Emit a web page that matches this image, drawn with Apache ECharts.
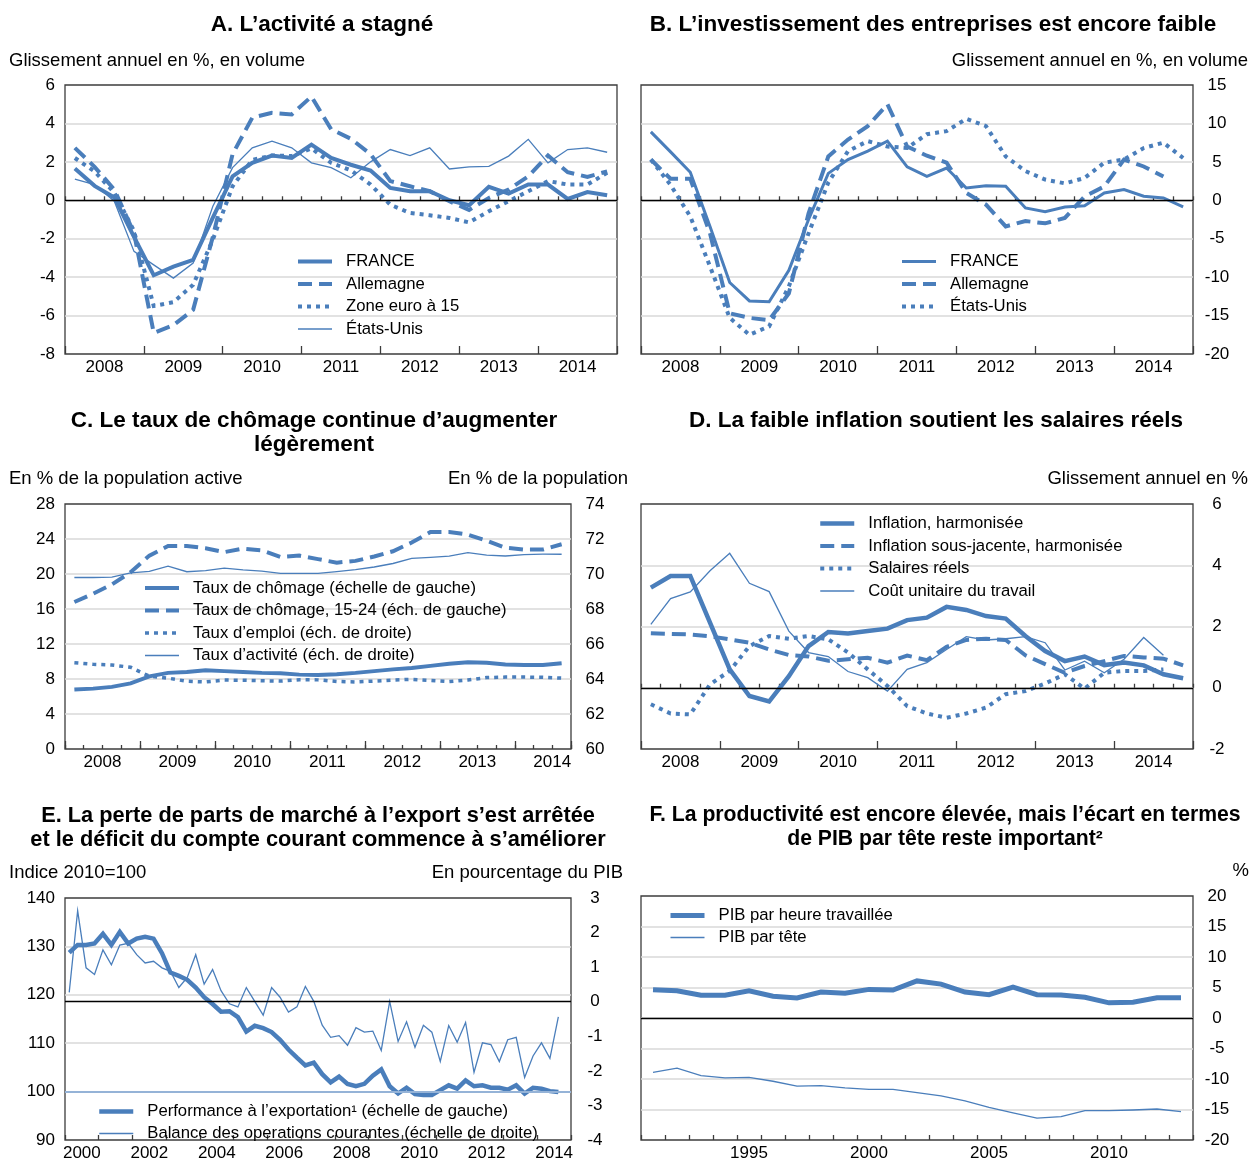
<!DOCTYPE html>
<html>
<head>
<meta charset="utf-8">
<script src="https://cdn.jsdelivr.net/npm/echarts@6/dist/echarts.min.js"></script>
<style>
  html, body { margin: 0; padding: 0; background: #fff; }
  #chart { width: 1251px; height: 1162px; }
</style>
</head>
<body>
<div id="chart"></div>
<script>
// ---------- categories ----------
const yearsQ = ['2008', '2009', '2010', '2011', '2012', '2013', '2014'];
const yearsE = ['2000', '2001', '2002', '2003', '2004', '2005', '2006', '2007',
                '2008', '2009', '2010', '2011', '2012', '2013', '2014'];
const yearsF = ['1991', '1992', '1993', '1994', '1995', '1996', '1997', '1998', '1999', '2000',
                '2001', '2002', '2003', '2004', '2005', '2006', '2007', '2008', '2009', '2010',
                '2011', '2012', '2013'];

// ---------- A. GDP growth, y-o-y % ----------
const franceA    = [1.65, 0.75, 0.15, -1.9, -3.9, -3.45, -3.1, -0.9, 1.25, 1.95, 2.33, 2.2, 2.9, 2.2,
                    1.85, 1.55, 0.64, 0.47, 0.47, 0.0, -0.26, 0.7, 0.35, 0.82, 0.82, 0.07, 0.43, 0.26];
const allemagneA = [2.73, 1.74, 0.56, -1.7, -6.9, -6.5, -5.7, -1.9, 2.4, 4.3, 4.55, 4.47, 5.4, 3.7,
                    3.2, 2.4, 1.0, 0.73, 0.47, -0.05, -0.5, 0.12, 0.56, 1.25, 2.33, 1.46, 1.22, 1.5];
const zoneEuroA  = [2.2, 1.5, 0.4, -1.6, -5.5, -5.3, -4.4, -2.05, 0.73, 2.1, 2.33, 2.3, 2.7, 1.95,
                    1.56, 0.82, -0.23, -0.66, -0.78, -0.92, -1.15, -0.57, -0.05, 0.47, 1.0, 0.82, 0.82, 1.43];
const etatsUnisA = [1.1, 0.82, -0.05, -2.66, -3.36, -4.05, -3.27, -0.31, 1.7, 2.73, 3.08, 2.73, 1.95, 1.7,
                    1.17, 2.0, 2.64, 2.33, 2.73, 1.63, 1.74, 1.77, 2.3, 3.17, 1.95, 2.64, 2.73, 2.5];

// ---------- B. Business investment, y-o-y % ----------
const franceB    = [8.9, 6.3, 3.65, -3.4, -10.7, -13.1, -13.2, -9.1, -2.5, 3.5, 5.3, 6.4, 7.7, 4.35,
                    3.1, 4.2, 1.6, 1.9, 1.83, -1.0, -1.5, -0.87, -0.7, 0.96, 1.4, 0.52, 0.3, -0.87];
const allemagneB = [5.3, 2.8, 2.8, -4.3, -14.7, -15.3, -15.6, -12.1, -1.7, 5.7, 7.9, 9.65, 12.5, 7.0,
                    5.8, 4.9, 0.96, -0.57, -3.4, -2.7, -3.0, -2.3, 0.5, 1.8, 5.3, 4.4, 3.1, null];
const etatsUnisB = [5.3, 2.0, -2.1, -8.6, -15.3, -17.5, -16.4, -11.2, -4.3, 2.3, 6.4, 7.7, 7.0, 6.8,
                    8.6, 9.0, 10.6, 9.65, 5.7, 3.8, 2.7, 2.2, 2.9, 4.9, 5.3, 6.8, 7.5, 5.5];

// ---------- C. Labour market (2008T1 - 2014T3) ----------
const chomage     = [6.8, 6.9, 7.1, 7.5, 8.3, 8.7, 8.8, 9.0, 8.9, 8.8, 8.7, 8.65, 8.5, 8.45,
                     8.55, 8.7, 8.9, 9.1, 9.25, 9.5, 9.75, 9.9, 9.85, 9.65, 9.6, 9.6, 9.8];
const chomage1524 = [16.8, 17.75, 18.8, 20.2, 22.1, 23.2, 23.2, 22.95, 22.5, 22.9, 22.7, 21.95, 22.1, 21.7,
                     21.3, 21.5, 22.0, 22.6, 23.6, 24.8, 24.8, 24.5, 23.8, 23.0, 22.8, 22.8, 23.4];
const tauxEmploi  = [64.93, 64.84, 64.8, 64.67, 64.16, 64.05, 63.87, 63.83, 63.94, 63.93, 63.9, 63.88, 63.96, 63.95,
                     63.86, 63.83, 63.88, 63.94, 63.98, 63.92, 63.85, 63.94, 64.08, 64.11, 64.11, 64.1, 64.05];
const tauxActivite = [69.8, 69.8, 69.82, 70.06, 70.15, 70.45, 70.13, 70.19, 70.33, 70.23, 70.16, 70.04, 70.04, 70.04,
                      70.14, 70.25, 70.4, 70.6, 70.89, 70.95, 71.02, 71.22, 71.08, 71.03, 71.11, 71.13, 71.13];

// ---------- D. Prices and wages, y-o-y % ----------
const inflation   = [3.27, 3.65, 3.65, 2.13, 0.6, -0.27, -0.45, 0.38, 1.36, 1.82, 1.77, 1.85, 1.93, 2.21,
                     2.29, 2.64, 2.54, 2.34, 2.26, 1.69, 1.2, 0.87, 1.02, 0.74, 0.82, 0.73, 0.44, 0.31];
const sousJacente = [1.78, 1.76, 1.74, 1.68, 1.58, 1.47, 1.25, 1.07, 1.02, 0.88, 0.93, 0.98, 0.82, 1.05,
                     0.9, 1.34, 1.56, 1.6, 1.56, 1.06, 0.77, 0.49, 0.71, 0.87, 1.04, 0.99, 0.95, 0.73];
const salairesReels = [-0.54, -0.84, -0.87, 0.11, 0.55, 1.36, 1.69, 1.6, 1.69, 1.58, 1.15, 0.6, 0.06, -0.6,
                       -0.84, -0.98, -0.84, -0.65, -0.21, -0.11, 0.14, 0.44, -0.03, 0.49, 0.55, 0.55, 0.6, null];
const coutUnitaire = [2.07, 2.91, 3.13, 3.82, 4.39, 3.41, 3.14, 1.85, 1.15, 1.02, 0.53, 0.33, -0.11, 0.6,
                      0.82, 1.25, 1.67, 1.56, 1.6, 1.67, 1.47, 0.58, 0.87, 0.49, 0.93, 1.64, 1.06, null];

// ---------- E. Export performance (2010=100) and current account (% of GDP) ----------
const performanceExport = [128.7, 130.3, 130.3, 130.6, 132.6, 130.3, 133.0, 130.6, 131.6, 132.0,
                           131.6, 128.6, 124.6, 123.9, 123.1, 121.5, 119.5, 118.1, 116.5, 116.6,
                           115.4, 112.4, 113.6, 113.1, 112.3, 110.7, 108.7, 107.0, 105.4, 106.0,
                           103.6, 101.9, 103.1, 101.6, 101.1, 101.6, 103.3, 104.6, 101.1, 99.6,
                           100.8, 99.5, 99.3, 99.3, 100.3, 101.3, 100.6, 102.3, 101.1, 101.3,
                           100.8, 100.8, 100.4, 101.3, 99.6, 100.8, 100.6, 100.1, 99.9];
const balanceCourante = [0.27, 2.63, 0.98, 0.79, 1.5, 1.07, 1.64, 1.69, 1.36, 1.12,
                         1.17, 0.98, 0.88, 0.41, 0.7, 1.36, 0.51, 0.93, 0.32, -0.06,
                         -0.15, 0.41, 0.01, -0.39, 0.41, 0.13, -0.3, -0.15, 0.44, 0.01,
                         -0.68, -1.03, -0.98, -1.26, -0.75, -0.88, -0.85, -1.41, 0.01, -1.15,
                         -0.58, -1.32, -0.68, -0.88, -1.73, -0.69, -1.17, -0.6, -2.04, -1.19,
                         -1.24, -1.73, -1.1, -1.03, -2.19, -1.57, -1.19, -1.64, -0.44];

// ---------- F. Productivity and GDP per head gaps, % ----------
const pibHeure = [4.63, 4.47, 3.73, 3.73, 4.47, 3.57, 3.3, 4.26, 4.05, 4.69, 4.58, 6.08,
                  5.55, 4.26, 3.83, 5.06, 3.83, 3.78, 3.4, 2.49, 2.6, 3.3, 3.3];
const pibTete  = [-8.92, -8.23, -9.46, -9.83, -9.73, -10.37, -11.17, -11.07, -11.44, -11.71, -11.71, -12.24,
                  -12.78, -13.58, -14.66, -15.56, -16.42, -16.16, -15.19, -15.19, -15.08, -14.92, -15.35];

// ---------- styling ----------
const BLUE = '#4a7ebb';
const LIGHT_BLUE = '#95b3d7';
const GRID_GREY = '#d9d9d9';
const FRAME = '#3c3c3c';
const FONT = '"Liberation Sans", Arial, Helvetica, sans-serif';
const DASH = [14, 7];
const DOT = [4, 5];

function quarters(years) {
  const out = [];
  years.forEach(y => { for (let q = 1; q <= 4; q++) out.push(y + 'T' + q); });
  return out;
}
const quartersQ = quarters(yearsQ);
const quartersC = quartersQ.slice(0, chomage.length);
const quartersE = quarters(yearsE);

const grids = [
  { left: 65,  top: 85,  width: 552, height: 269 },  // A
  { left: 641, top: 85,  width: 552, height: 269 },  // B
  { left: 65,  top: 504, width: 506, height: 245 },  // C
  { left: 641, top: 504, width: 552, height: 245 },  // D
  { left: 65,  top: 898, width: 506, height: 247 },  // E
  { left: 641, top: 896, width: 552, height: 249 }   // F
].map(g => Object.assign({ show: true, borderColor: FRAME, borderWidth: 1.3, containLabel: false }, g));

const tickLine = { color: FRAME, width: 1.3 };
const labelText = { color: '#000', fontSize: 17, fontFamily: FONT };

// data axis: one category per observation
function dataAxis(g, cats, tickLen) {
  return {
    type: 'category', gridIndex: g, data: cats, position: 'bottom', boundaryGap: true,
    axisLine: { show: false },
    axisTick: { show: tickLen > 0, inside: true, length: tickLen, interval: 0, lineStyle: tickLine },
    axisLabel: { show: false }, splitLine: { show: false }
  };
}
// year axis: one band per year, longer ticks and the year labels
function yearAxis(g, years, tickLen, labelInterval) {
  return {
    type: 'category', gridIndex: g, data: years, position: 'bottom', boundaryGap: true,
    axisLine: { show: false },
    axisTick: { show: tickLen > 0, inside: true, length: tickLen, interval: 0, lineStyle: tickLine },
    axisLabel: Object.assign({ interval: labelInterval, margin: 5 }, labelText),
    splitLine: { show: false }
  };
}
// quarter-boundary axis (used when the last year is incomplete): points sit on boundaries
function boundaryAxis(g, nQuarters, tickLen, tickInterval, years) {
  const pts = Array.from({ length: nQuarters + 1 }, (_, k) => 'q' + k);
  return {
    type: 'category', gridIndex: g, data: pts, position: 'bottom', boundaryGap: false,
    axisLine: { show: false },
    axisTick: { show: true, inside: true, length: tickLen, interval: tickInterval, lineStyle: tickLine },
    axisLabel: years
      ? Object.assign({ interval: 0, margin: 5,
          formatter: (v, idx) => (idx % 4 === 2 ? years[(idx - 2) / 4] : '') }, labelText)
      : { show: false },
    splitLine: { show: false }
  };
}
function valueAxis(g, min, max, interval, position, split, labelOpt) {
  return {
    type: 'value', gridIndex: g, min, max, interval, position,
    axisLine: { show: false }, axisTick: { show: false },
    axisLabel: Object.assign({}, labelText, labelOpt),
    splitLine: { show: split, showMinLine: false, showMaxLine: false,
                 lineStyle: { color: GRID_GREY, width: 1.5 } }
  };
}

const xAxis = [
  dataAxis(0, quartersQ, 4), yearAxis(0, yearsQ, 8, 0),                 // 0,1  A
  dataAxis(1, quartersQ, 4), yearAxis(1, yearsQ, 8, 0),                 // 2,3  B
  dataAxis(2, quartersC, 0),                                             // 4    C data
  boundaryAxis(2, quartersC.length, 4, 0, null),                         // 5    C quarter ticks
  boundaryAxis(2, quartersC.length, 8, 3, yearsQ),                       // 6    C year ticks + labels
  dataAxis(3, quartersQ, 4), yearAxis(3, yearsQ, 8, 0),                 // 7,8  D
  dataAxis(4, quartersE, 0), yearAxis(4, yearsE, 5, 1),                 // 9,10 E
  dataAxis(5, yearsF, 0),    yearAxis(5, yearsF, 5, (i, v) => (+v) % 5 === 0)  // 11,12 F
];

const leftLbl  = { margin: 10 };
const rightLbl = { margin: 24, align: 'center' };
const yAxis = [
  valueAxis(0, -8, 6, 2, 'left', true, leftLbl),        // 0 A
  valueAxis(1, -20, 15, 5, 'right', true, rightLbl),    // 1 B
  valueAxis(2, 0, 28, 4, 'left', true, leftLbl),        // 2 C left
  valueAxis(2, 60, 74, 2, 'right', false, { margin: 24, align: 'center' }), // 3 C right
  valueAxis(3, -2, 6, 2, 'right', true, rightLbl),      // 4 D
  valueAxis(4, 90, 140, 10, 'left', true, leftLbl),     // 5 E left
  valueAxis(4, -4, 3, 1, 'right', false, { margin: 24, align: 'center' }),  // 6 E right
  valueAxis(5, -20, 20, 5, 'right', true, rightLbl)     // 7 F
];

function refLine(value, color, width) {
  return { silent: true, symbol: 'none', animation: false, label: { show: false },
           lineStyle: { color, width, type: 'solid' }, data: [{ yAxis: value }] };
}
function line(name, data, xi, yi, width, type, extra) {
  return Object.assign({
    type: 'line', name, data, xAxisIndex: xi, yAxisIndex: yi,
    symbol: 'none', smooth: false, connectNulls: false, animation: false,
    lineStyle: { color: BLUE, width, type: type || 'solid', cap: 'butt', join: 'miter' },
    itemStyle: { color: BLUE }, z: 3
  }, extra || {});
}

const series = [
  // A
  line('A|FRANCE', franceA, 0, 0, 4, 'solid', { markLine: refLine(0, '#000', 1.3) }),
  line('A|Allemagne', allemagneA, 0, 0, 4, DASH),
  line('A|Zone euro à 15', zoneEuroA, 0, 0, 4, DOT),
  line('A|États-Unis', etatsUnisA, 0, 0, 1.3),
  // B
  line('B|FRANCE', franceB, 2, 1, 3, 'solid', { markLine: refLine(0, '#000', 1.3) }),
  line('B|Allemagne', allemagneB, 2, 1, 4, DASH),
  line('B|États-Unis', etatsUnisB, 2, 1, 4, DOT),
  // C
  line('C|Taux de chômage (échelle de gauche)', chomage, 4, 2, 4),
  line('C|Taux de chômage, 15-24 (éch. de gauche)', chomage1524, 4, 2, 4, DASH),
  line('C|Taux d’emploi (éch. de droite)', tauxEmploi, 4, 3, 3.5, DOT),
  line('C|Taux d’activité (éch. de droite)', tauxActivite, 4, 3, 1.3),
  // D
  line('D|Inflation, harmonisée', inflation, 7, 4, 4.5, 'solid', { markLine: refLine(0, '#000', 1.3) }),
  line('D|Inflation sous-jacente, harmonisée', sousJacente, 7, 4, 4, DASH),
  line('D|Salaires réels', salairesReels, 7, 4, 4, DOT),
  line('D|Coût unitaire du travail', coutUnitaire, 7, 4, 1.3),
  // E
  line('E|Performance à l’exportation¹ (échelle de gauche)', performanceExport, 9, 5, 4.5, 'solid',
       { markLine: refLine(100, LIGHT_BLUE, 2) }),
  line('E|Balance des operations courantes (échelle de droite)', balanceCourante, 9, 6, 1.3, 'solid',
       { markLine: refLine(0, '#000', 1.3) }),
  // F
  line('F|PIB par heure travaillée', pibHeure, 11, 7, 5, 'solid', { markLine: refLine(0, '#000', 1.3) }),
  line('F|PIB par tête', pibTete, 11, 7, 1.3)
];

function legend(left, top, gap, prefix) {
  const items = series.filter(s => s.name.indexOf(prefix + '|') === 0).map(s => ({
    name: s.name,
    itemStyle: { opacity: 0, borderWidth: 0 },
    lineStyle: { color: BLUE, width: s.lineStyle.width, type: s.lineStyle.type, cap: 'butt' }
  }));
  return {
    left, top, orient: 'vertical', padding: 0, itemGap: gap,
    itemWidth: 34, itemHeight: 14, selectedMode: false,
    data: items,
    formatter: name => name.split('|').pop(),
    textStyle: { color: '#000', fontSize: 16.7, fontFamily: FONT, padding: [0, 0, 0, 9] }
  };
}

const legends = [
  legend(296, 253, 5.5, 'A'),
  legend(900, 253, 5.5, 'B'),
  legend(143, 579.5, 5.5, 'C'),
  legend(818, 515, 5.5, 'D'),
  legend(97, 1103, 5, 'E'),
  legend(668, 907, 5, 'F')
];

function titleStyle(size) {
  return { color: '#000', fontSize: size, fontWeight: 'bold', fontFamily: FONT, lineHeight: 24 };
}
const unitStyle = { color: '#000', fontSize: 18.5, fontWeight: 'normal', fontFamily: FONT };
const title = [
  { text: 'A. L’activité a stagné', left: 322, top: 13, textAlign: 'center', padding: 0, textStyle: titleStyle(22.5) },
  { text: 'B. L’investissement des entreprises est encore faible', left: 933, top: 13, textAlign: 'center', padding: 0, textStyle: titleStyle(22.5) },
  { text: 'C. Le taux de chômage continue d’augmenter\nlégèrement', left: 314, top: 408.5, textAlign: 'center', padding: 0, textStyle: titleStyle(22.5) },
  { text: 'D. La faible inflation soutient les salaires réels', left: 936, top: 409, textAlign: 'center', padding: 0, textStyle: titleStyle(22.5) },
  { text: 'E. La perte de parts de marché à l’export s’est arrêtée\net le déficit du compte courant commence à s’améliorer', left: 318, top: 803.5, textAlign: 'center', padding: 0, textStyle: titleStyle(21.75) },
  { text: 'F. La productivité est encore élevée, mais l’écart en termes\nde PIB par tête reste important²', left: 945, top: 803.5, textAlign: 'center', padding: 0, textStyle: titleStyle(21.2) },

  { text: 'Glissement annuel en %, en volume', left: 9, top: 51, padding: 0, textStyle: unitStyle },
  { text: 'Glissement annuel en %, en volume', right: 3, top: 51, padding: 0, textStyle: unitStyle },
  { text: 'En % de la population active', left: 9, top: 469, padding: 0, textStyle: unitStyle },
  { text: 'En % de la population', right: 623, top: 469, padding: 0, textStyle: unitStyle },
  { text: 'Glissement annuel en %', right: 3, top: 469, padding: 0, textStyle: unitStyle },
  { text: 'Indice 2010=100', left: 9, top: 863, padding: 0, textStyle: unitStyle },
  { text: 'En pourcentage du PIB', right: 628, top: 863, padding: 0, textStyle: unitStyle },
  { text: '%', right: 2, top: 861, padding: 0, textStyle: unitStyle }
];

const chart = echarts.init(document.getElementById('chart'), null, { renderer: 'canvas' });
chart.setOption({
  backgroundColor: '#fff',
  animation: false,
  title, grid: grids, xAxis, yAxis, series, legend: legends
});
</script>
</body>
</html>
